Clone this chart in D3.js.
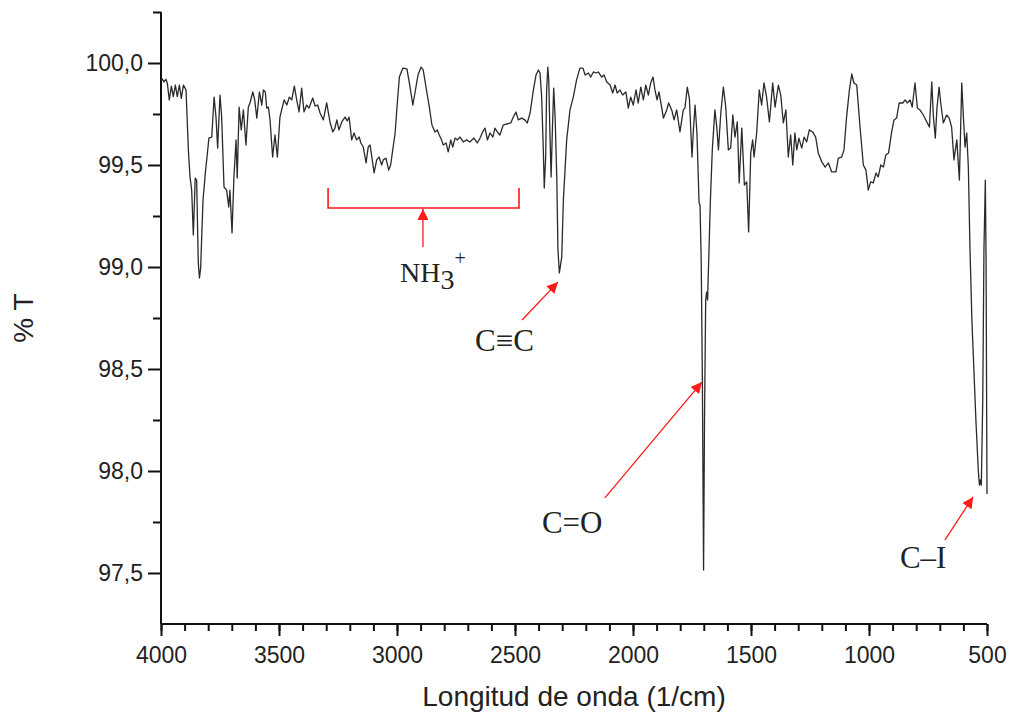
<!DOCTYPE html>
<html>
<head>
<meta charset="utf-8">
<script src="https://cdn.jsdelivr.net/npm/d3@7"></script>
<style>
  body { margin: 0; background: #fff; }
  svg { display: block; }
</style>
</head>
<body>
<svg id="chart" width="1009" height="716"></svg>
<script>
// IR spectrum: [wavenumber 1/cm, %T]
const spectrum = [
  [3997,99.925],[3987,99.908],[3979,99.920],[3973,99.900],[3965,99.819],[3956,99.887],[3948,99.835],[3939,99.892],
  [3931,99.835],[3922,99.892],[3914,99.827],[3905,99.892],[3894,99.868],[3884,99.574],[3877,99.441],[3870,99.377],
  [3863,99.157],[3855,99.436],[3849,99.426],[3842,99.020],[3837,98.946],[3832,98.995],[3822,99.328],[3811,99.475],
  [3805,99.539],[3797,99.632],[3785,99.637],[3775,99.833],[3767,99.735],[3760,99.583],[3750,99.843],[3743,99.735],
  [3733,99.392],[3722,99.377],[3713,99.294],[3708,99.377],[3699,99.167],[3691,99.441],[3682,99.623],[3677,99.436],
  [3669,99.784],[3660,99.672],[3651,99.770],[3640,99.598],[3630,99.784],[3623,99.804],[3611,99.858],[3603,99.819],
  [3594,99.730],[3583,99.858],[3573,99.794],[3566,99.868],[3558,99.858],[3552,99.779],[3545,99.784],[3538,99.721],
  [3527,99.539],[3517,99.647],[3507,99.539],[3496,99.735],[3487,99.779],[3478,99.819],[3467,99.794],[3456,99.833],
  [3446,99.819],[3435,99.887],[3425,99.819],[3415,99.760],[3404,99.877],[3394,99.760],[3383,99.794],[3373,99.779],
  [3357,99.828],[3347,99.789],[3336,99.794],[3326,99.755],[3312,99.721],[3298,99.804],[3284,99.711],[3272,99.662],
  [3263,99.681],[3255,99.721],[3246,99.672],[3234,99.711],[3220,99.735],[3211,99.716],[3203,99.735],[3192,99.623],
  [3182,99.657],[3171,99.623],[3160,99.637],[3153,99.608],[3143,99.588],[3131,99.510],[3122,99.588],[3114,99.598],
  [3105,99.525],[3097,99.461],[3086,99.525],[3076,99.539],[3065,99.500],[3058,99.525],[3047,99.534],[3035,99.475],
  [3027,99.500],[3018,99.574],[3008,99.657],[3000,99.784],[2990,99.931],[2975,99.975],[2958,99.971],[2946,99.892],
  [2933,99.794],[2924,99.853],[2911,99.941],[2898,99.980],[2889,99.966],[2873,99.853],[2863,99.784],[2852,99.696],
  [2839,99.662],[2829,99.672],[2821,99.647],[2811,99.623],[2804,99.598],[2792,99.608],[2783,99.564],[2772,99.623],
  [2764,99.588],[2754,99.632],[2744,99.623],[2733,99.637],[2719,99.613],[2705,99.623],[2691,99.613],[2674,99.632],
  [2660,99.608],[2648,99.632],[2637,99.662],[2627,99.681],[2617,99.623],[2606,99.657],[2594,99.637],[2585,99.681],
  [2575,99.662],[2564,99.647],[2550,99.696],[2535,99.701],[2518,99.706],[2507,99.735],[2496,99.760],[2486,99.721],
  [2472,99.730],[2458,99.721],[2448,99.706],[2436,99.755],[2422,99.868],[2411,99.941],[2401,99.966],[2394,99.951],
  [2387,99.833],[2380,99.574],[2376,99.387],[2370,99.539],[2366,99.868],[2361,99.980],[2357,99.917],[2352,99.657],
  [2347,99.441],[2342,99.657],[2336,99.877],[2330,99.735],[2323,99.441],[2318,99.083],[2312,98.971],[2302,99.049],
  [2295,99.328],[2281,99.623],[2267,99.770],[2253,99.833],[2239,99.917],[2225,99.975],[2212,99.975],[2203,99.941],
  [2189,99.951],[2179,99.931],[2168,99.956],[2157,99.951],[2147,99.956],[2133,99.931],[2123,99.941],[2111,99.907],
  [2097,99.892],[2086,99.853],[2076,99.892],[2067,99.853],[2055,99.868],[2044,99.843],[2030,99.858],[2020,99.779],
  [2010,99.833],[1999,99.794],[1987,99.868],[1978,99.804],[1967,99.882],[1956,99.819],[1946,99.892],[1935,99.843],
  [1925,99.902],[1915,99.931],[1907,99.868],[1898,99.819],[1890,99.858],[1878,99.779],[1871,99.730],[1857,99.770],
  [1849,99.804],[1836,99.770],[1826,99.721],[1815,99.770],[1801,99.662],[1787,99.770],[1780,99.779],[1770,99.882],
  [1761,99.824],[1750,99.539],[1744,99.672],[1737,99.794],[1729,99.657],[1720,99.314],[1716,99.304],[1711,99.034],
  [1706,98.446],[1701,97.515],[1697,98.250],[1692,98.838],[1688,98.877],[1684,98.838],[1678,99.083],[1672,99.328],
  [1664,99.574],[1653,99.770],[1645,99.686],[1638,99.574],[1628,99.755],[1617,99.882],[1607,99.784],[1596,99.574],
  [1586,99.583],[1577,99.745],[1568,99.637],[1558,99.711],[1550,99.412],[1539,99.681],[1528,99.402],[1518,99.417],
  [1510,99.172],[1501,99.559],[1493,99.623],[1487,99.539],[1476,99.657],[1465,99.868],[1455,99.794],[1445,99.902],
  [1434,99.833],[1422,99.711],[1408,99.902],[1398,99.784],[1384,99.892],[1374,99.843],[1363,99.706],[1352,99.770],
  [1342,99.539],[1332,99.647],[1323,99.500],[1314,99.657],[1306,99.574],[1297,99.632],[1285,99.583],[1275,99.637],
  [1264,99.613],[1253,99.672],[1239,99.662],[1226,99.637],[1215,99.559],[1200,99.515],[1186,99.490],[1172,99.510],
  [1158,99.466],[1140,99.466],[1130,99.534],[1116,99.539],[1106,99.574],[1095,99.735],[1083,99.868],[1073,99.946],
  [1064,99.902],[1052,99.892],[1038,99.686],[1024,99.500],[1013,99.475],[1003,99.377],[993,99.417],[982,99.412],
  [970,99.461],[961,99.441],[950,99.500],[939,99.490],[929,99.549],[917,99.559],[904,99.662],[894,99.721],
  [883,99.730],[872,99.804],[857,99.804],[847,99.819],[838,99.804],[826,99.819],[817,99.784],[805,99.902],
  [795,99.779],[784,99.770],[770,99.745],[755,99.711],[744,99.686],[734,99.907],[727,99.735],[719,99.632],
  [712,99.779],[703,99.882],[695,99.794],[685,99.706],[671,99.745],[660,99.730],[650,99.686],[640,99.525],
  [628,99.623],[617,99.426],[607,99.902],[600,99.735],[593,99.588],[586,99.657],[579,99.490],[572,99.083],
  [564,98.740],[547,98.250],[537,98.005],[532,97.931],[528,97.956],[524,97.931],[518,98.348],[513,99.083],
  [507,99.426],[504,99.034],[500,97.887]
];

const xTicks = [4000, 3500, 3000, 2500, 2000, 1500, 1000, 500];
const yTicks = [97.5, 98.0, 98.5, 99.0, 99.5, 100.0];
const yMinorTicks = [97.75, 98.25, 98.75, 99.25, 99.75, 100.25];

// band assignments (data units): label position, arrow tail, arrow tip
const bandLabels = ['C\u2261C', 'C=O', 'C\u2013I'];
const bandLabelPos = [[2669, 98.588], [2386, 97.696], [869, 97.525]];
const bandArrowFrom = [[2470, 98.740], [2119, 97.868], [678, 97.662]];
const bandArrowTo = [[2318, 98.926], [1708, 98.436], [559, 97.873]];

// NH3+ range bracket
const nhRange = [3292, 2483];
const nhBracketT = [99.289, 99.387];
const nhArrow = [2890, 99.098, 99.289];
const nhLabelPos = [2987, 98.926];

const svg = d3.select('#chart');
const width = +svg.attr('width');
const height = +svg.attr('height');
const margin = {top: 12, right: 22, bottom: 92, left: 161};

const x = d3.scaleLinear().domain([4000, 500]).range([margin.left, width - margin.right]);
const y = d3.scaleLinear().domain([97.25, 100.25]).range([height - margin.bottom, margin.top]);

const sans = '"Liberation Sans", Arial, sans-serif';
const serif = '"Liberation Serif", "Times New Roman", serif';
const fmt = d => d3.format('.1f')(d).replace('.', ',');

// axes
const xMinor = svg.append('g')
  .attr('transform', `translate(0,${height - margin.bottom})`)
  .call(d3.axisBottom(x).tickValues(d3.range(500, 4001, 100)).tickSize(7).tickFormat(''));
xMinor.select('.domain').remove();

const xAxis = svg.append('g')
  .attr('transform', `translate(0,${height - margin.bottom})`)
  .call(d3.axisBottom(x).tickValues(xTicks).tickSize(12).tickPadding(11).tickFormat(d3.format('d')));
xAxis.selectAll('text').style('font-family', sans).style('font-size', '23px').attr('fill', '#222');

const yMinor = svg.append('g')
  .attr('transform', `translate(${margin.left},0)`)
  .call(d3.axisLeft(y).tickValues(yMinorTicks).tickSize(8).tickFormat(''));
yMinor.select('.domain').remove();

const yAxis = svg.append('g')
  .attr('transform', `translate(${margin.left},0)`)
  .call(d3.axisLeft(y).tickValues(yTicks).tickSize(13).tickPadding(5).tickFormat(fmt));
yAxis.selectAll('text').style('font-family', sans).style('font-size', '23px').attr('fill', '#222');

svg.selectAll('.domain, .tick line').attr('stroke', '#111').attr('stroke-width', 2);
xAxis.select('.domain').attr('d', `M${x(4000)},0H${x(500)}`);
yAxis.select('.domain').attr('d', `M0,${y(100.25)}V${y(97.25)}`);

svg.append('text')
  .attr('x', (margin.left + width - margin.right) / 2)
  .attr('y', 706)
  .attr('text-anchor', 'middle')
  .style('font-family', sans)
  .style('font-size', '28px')
  .attr('fill', '#222')
  .text('Longitud de onda (1/cm)');

svg.append('text')
  .attr('transform', `translate(33,${(margin.top + height - margin.bottom) / 2}) rotate(-90)`)
  .attr('text-anchor', 'middle')
  .style('font-family', sans)
  .style('font-size', '28px')
  .attr('fill', '#222')
  .text('% T');

// spectrum
svg.append('path')
  .datum(spectrum)
  .attr('fill', 'none')
  .attr('stroke', '#2a2a2a')
  .attr('stroke-width', 1.3)
  .attr('stroke-linejoin', 'round')
  .attr('d', d3.line().x(d => x(d[0])).y(d => y(d[1])));

// annotations
svg.append('defs').append('marker')
  .attr('id', 'head')
  .attr('markerUnits', 'userSpaceOnUse')
  .attr('viewBox', '0 0 10 10')
  .attr('refX', 10).attr('refY', 5)
  .attr('markerWidth', 15).attr('markerHeight', 11)
  .attr('orient', 'auto')
  .append('path').attr('d', 'M0,0L10,5L0,10Z').attr('fill', '#ff1a1a');

const red = '#ff1a1a';

svg.append('path')
  .attr('fill', 'none').attr('stroke', red).attr('stroke-width', 1.6)
  .attr('d', `M${x(nhRange[0])},${y(nhBracketT[1])}V${y(nhBracketT[0])}H${x(nhRange[1])}V${y(nhBracketT[1])}`);

svg.append('line')
  .attr('x1', x(nhArrow[0])).attr('y1', y(nhArrow[1]))
  .attr('x2', x(nhArrow[0])).attr('y2', y(nhArrow[2]) + 1)
  .attr('stroke', red).attr('stroke-width', 1.3)
  .attr('marker-end', 'url(#head)');

const nh = svg.append('text')
  .attr('x', x(nhLabelPos[0])).attr('y', y(nhLabelPos[1]))
  .style('font-family', serif).style('font-size', '28px').attr('fill', '#222');
nh.append('tspan').text('NH');
nh.append('tspan').attr('dy', 7).text('3');
nh.append('tspan').attr('dy', -24).style('font-size', '20px').text('+');

bandLabels.forEach(function(label, i) {
  svg.append('line')
    .attr('x1', x(bandArrowFrom[i][0])).attr('y1', y(bandArrowFrom[i][1]))
    .attr('x2', x(bandArrowTo[i][0])).attr('y2', y(bandArrowTo[i][1]))
    .attr('stroke', red).attr('stroke-width', 1.3)
    .attr('marker-end', 'url(#head)');

  svg.append('text')
    .attr('x', x(bandLabelPos[i][0])).attr('y', y(bandLabelPos[i][1]))
    .style('font-family', serif).style('font-size', '31px').attr('fill', '#222')
    .text(label);
});
</script>
</body>
</html>
